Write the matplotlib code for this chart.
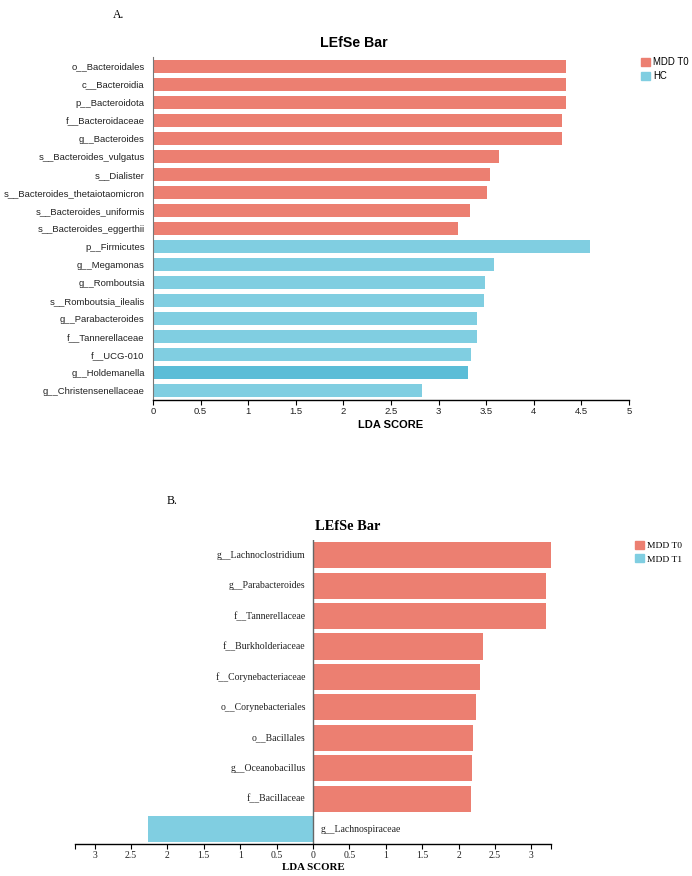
import matplotlib.pyplot as plt
from matplotlib.patches import Patch

# ---- Panel A data (MDD T0 vs HC) ----
taxa_a = ["o__Bacteroidales", "c__Bacteroidia", "p__Bacteroidota", "f__Bacteroidaceae",
          "g__Bacteroides", "s__Bacteroides_vulgatus", "s__Dialister",
          "s__Bacteroides_thetaiotaomicron", "s__Bacteroides_uniformis",
          "s__Bacteroides_eggerthii", "p__Firmicutes", "g__Megamonas", "g__Romboutsia",
          "s__Romboutsia_ilealis", "g__Parabacteroides", "f__Tannerellaceae",
          "f__UCG-010", "g__Holdemanella", "g__Christensenellaceae"]
lda_a = [4.34, 4.34, 4.34, 4.30, 4.30, 3.63, 3.54, 3.51, 3.33, 3.20,
         4.59, 3.58, 3.49, 3.48, 3.40, 3.40, 3.34, 3.31, 2.83]
group_a = ["MDD T0"] * 10 + ["HC"] * 9

# ---- Panel B data (MDD T0 vs MDD T1) ----
taxa_b = ["g__Lachnoclostridium", "g__Parabacteroides", "f__Tannerellaceae",
          "f__Burkholderiaceae", "f__Corynebacteriaceae", "o__Corynebacteriales",
          "o__Bacillales", "g__Oceanobacillus", "f__Bacillaceae", "g__Lachnospiraceae"]
lda_b = [3.265, 3.205, 3.205, 2.33, 2.29, 2.236, 2.20, 2.185, 2.167, 2.27]
group_b = ["MDD T0"] * 9 + ["MDD T1"]

red = "#EC7F71"
blue = "#80CEE1"
blue_dark = "#5BBDD7"

W, H = 692, 876
fig = plt.figure(figsize=(W / 100, H / 100), dpi=100)

def rect(l, t, r, b):
    return [l / W, 1 - b / H, (r - l) / W, (b - t) / H]

# ================= Panel A =================
sans = "Liberation Sans"
ax = fig.add_axes(rect(153, 57, 629, 400))
cols_a = [red if g == "MDD T0" else blue for g in group_a]
cols_a[taxa_a.index("g__Holdemanella")] = blue_dark
ypos = list(range(len(taxa_a)))
ax.barh(ypos, lda_a, height=0.72, color=cols_a)
ax.set_ylim(len(taxa_a) - 0.5, -0.5)
ax.set_xlim(0, 5)
ax.set_yticks(ypos)
ax.set_yticklabels(taxa_a, fontsize=6.8, family=sans, color="#222222")
ax.tick_params(axis="y", length=0, pad=6)
ax.set_xticks([0, 0.5, 1, 1.5, 2, 2.5, 3, 3.5, 4, 4.5, 5])
ax.set_xticklabels(["0", "0.5", "1", "1.5", "2", "2.5", "3", "3.5", "4", "4.5", "5"],
                   fontsize=6.8, family=sans, color="#222222")
ax.tick_params(axis="x", length=3.5, width=0.8, pad=1.5)
for s in ["top", "right"]:
    ax.spines[s].set_visible(False)
ax.spines["left"].set_color("#777777")
ax.spines["bottom"].set_linewidth(1.0)
ax.set_xlabel("LDA SCORE", fontsize=8, family=sans, fontweight="bold", labelpad=3)
fig.text(354 / W, 1 - 43 / H, "LEfSe Bar", fontsize=10.2, family=sans,
         fontweight="bold", ha="center", va="center")
fig.text(118.5 / W, 1 - 15 / H, "A.", fontsize=8.5, family="Liberation Serif",
         ha="center", va="center")
ax.legend(handles=[Patch(color=red, label="MDD T0"), Patch(color=blue, label="HC")],
          loc="upper left", bbox_to_anchor=(641 / W, 1 - 57 / H),
          bbox_transform=fig.transFigure, frameon=False,
          prop={"family": sans, "size": 6.9}, handlelength=0.9, handleheight=0.9,
          handletextpad=0.35, labelspacing=0.45, borderpad=0, borderaxespad=0)

# ================= Panel B =================
serif = "Liberation Serif"
xmax = 3.265
bx = fig.add_axes(rect(75.3, 540, 550.7, 844.3))
vals_b = [v if g == "MDD T0" else -v for v, g in zip(lda_b, group_b)]
cols_b = [red if g == "MDD T0" else blue for g in group_b]
ypb = list(range(len(taxa_b)))
bx.barh(ypb, vals_b, height=0.86, color=cols_b)
bx.set_ylim(len(taxa_b) - 0.5, -0.5)
bx.set_xlim(-xmax, xmax)
bx.set_yticks([])
for y, v, name in zip(ypb, vals_b, taxa_b):
    if v >= 0:
        bx.text(-0.1, y, name, ha="right", va="center", fontsize=7, family=serif,
                color="#222222")
    else:
        bx.text(0.1, y, name, ha="left", va="center", fontsize=7, family=serif,
                color="#222222")
ticks_b = [-3, -2.5, -2, -1.5, -1, -0.5, 0, 0.5, 1, 1.5, 2, 2.5, 3]
bx.set_xticks(ticks_b)
bx.set_xticklabels(["%g" % abs(t) for t in ticks_b], fontsize=7, family=serif,
                   color="#222222")
bx.set_xticks([-xmax, xmax], minor=True)
bx.tick_params(axis="x", which="both", length=3.5, width=0.8, pad=1.5)
for s in ["top", "right", "left"]:
    bx.spines[s].set_visible(False)
bx.spines["bottom"].set_linewidth(1.0)
bx.axvline(0, color="#666666", linewidth=1.0)
bx.set_xlabel("LDA SCORE", fontsize=7.8, family=serif, fontweight="bold", labelpad=2)
fig.text(347.5 / W, 1 - 527 / H, "LEfSe Bar", fontsize=10.4, family=serif,
         fontweight="bold", ha="center", va="center")
fig.text(172.5 / W, 1 - 500.7 / H, "B.", fontsize=8.5, family=serif,
         ha="center", va="center")
bx.legend(handles=[Patch(color=red, label="MDD T0"), Patch(color=blue, label="MDD T1")],
          loc="upper left", bbox_to_anchor=(635 / W, 1 - 541 / H),
          bbox_transform=fig.transFigure, frameon=False,
          prop={"family": serif, "size": 6.8}, handlelength=0.9, handleheight=0.9,
          handletextpad=0.35, labelspacing=0.45, borderpad=0, borderaxespad=0)

fig.savefig("out.png", dpi=100)
